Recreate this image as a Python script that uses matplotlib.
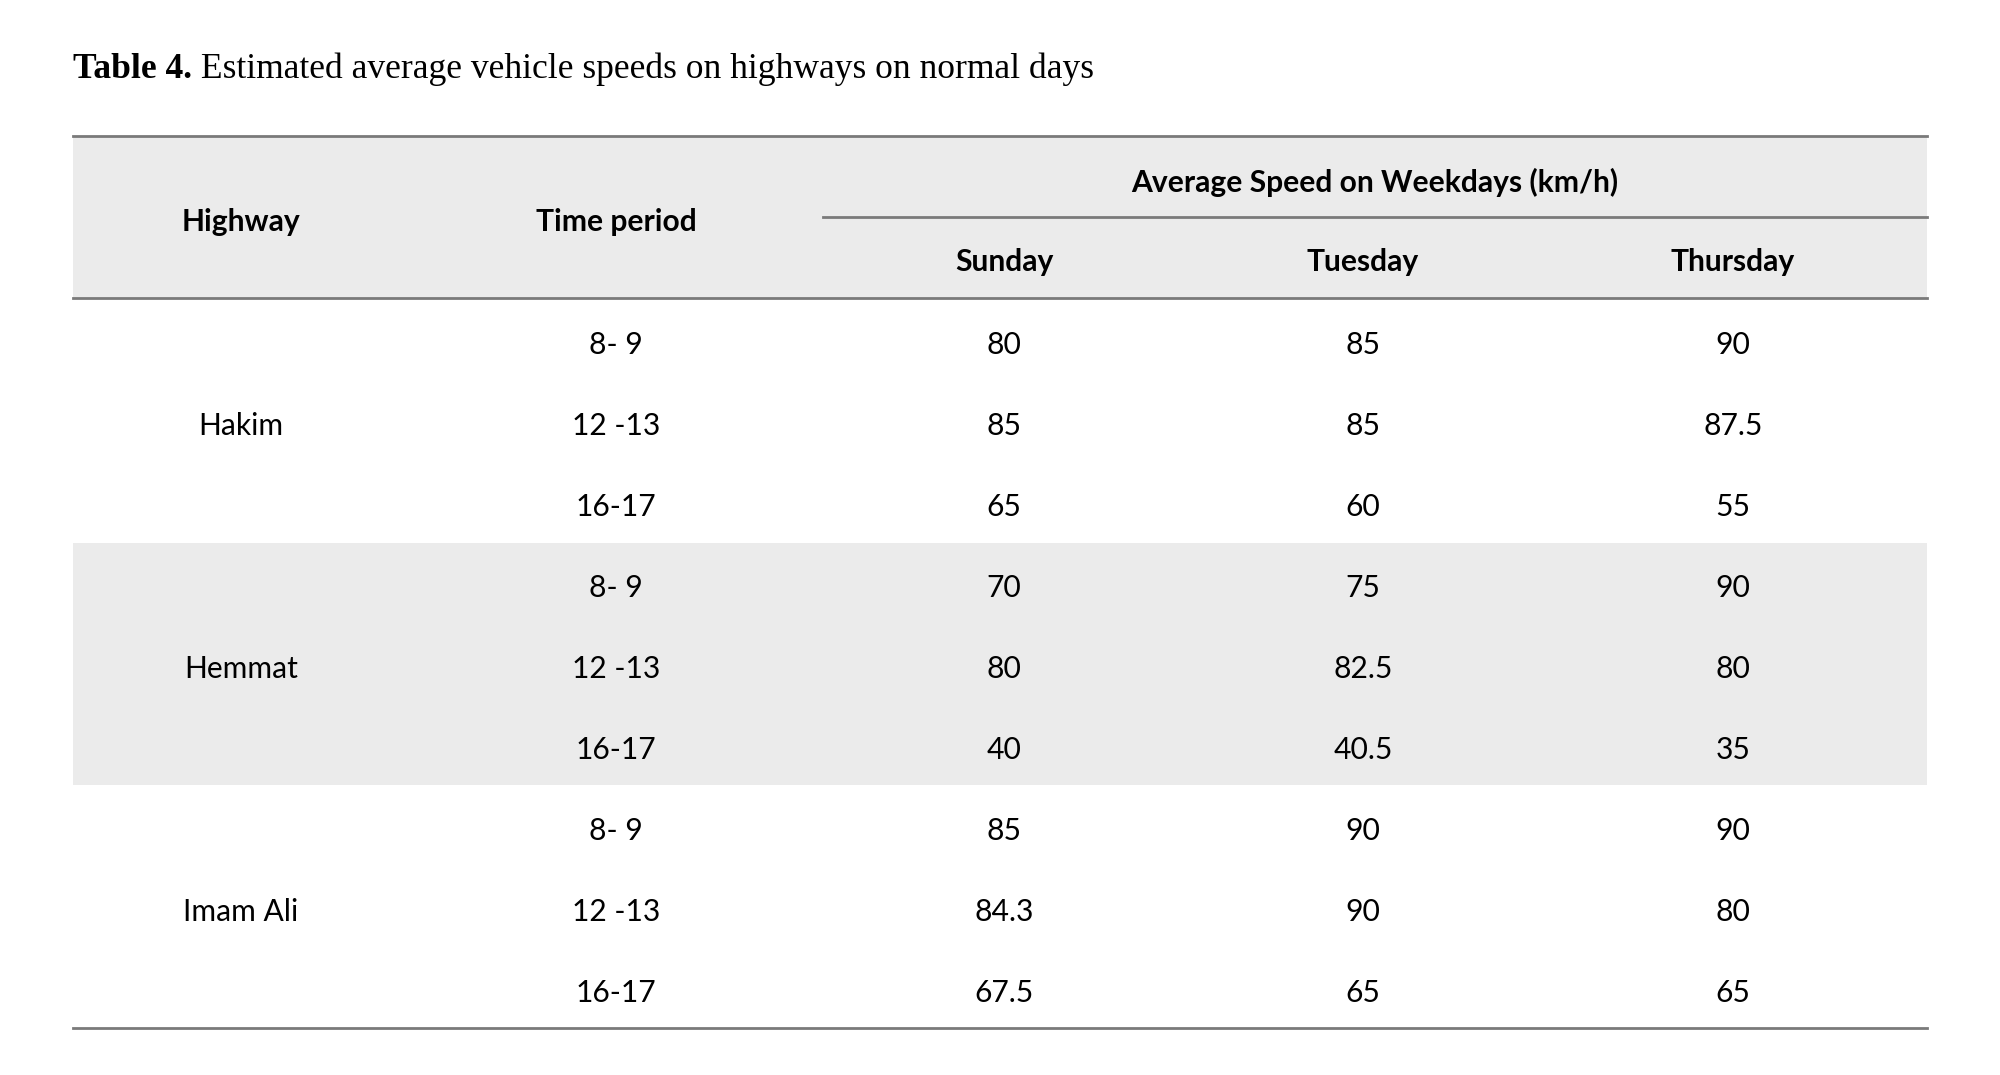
import matplotlib
matplotlib.use('Agg')
import matplotlib.pyplot as plt
from matplotlib.patches import Rectangle

# table content
title_bold = "Table 4."
title_rest = " Estimated average vehicle speeds on highways on normal days"
group_header = "Average Speed on Weekdays (km/h)"
col_headers = ["Highway", "Time period"]
days = ["Sunday", "Tuesday", "Thursday"]
highways = ["Hakim", "Hemmat", "Imam Ali"]
periods = ["8- 9", "12 -13", "16-17"]
sunday = ["80", "85", "65", "70", "80", "40", "85", "84.3", "67.5"]
tuesday = ["85", "85", "60", "75", "82.5", "40.5", "90", "90", "65"]
thursday = ["90", "87.5", "55", "90", "80", "35", "90", "80", "65"]

W, H = 2000, 1075
fig = plt.figure(figsize=(20, 10.75), dpi=100)
ax = fig.add_axes([0, 0, 1, 1])
ax.set_xlim(0, W)
ax.set_ylim(H, 0)
ax.axis('off')

body = ['Lato', 'DejaVu Sans']
serif = ['Liberation Serif', 'DejaVu Serif']
fs = 21.6
line_c = '#7a7a7a'
shade = '#ebebeb'

left, right = 73, 1927
col_x = [241, 616, 1004, 1363, 1733]
row_y0, row_dy = 345, 81
dy = 3  # small shift so glyphs sit like the reference

# title
t = ax.text(left, 69, title_bold, fontsize=25.6, family=serif, weight='bold',
            va='center', ha='left')
fig.canvas.draw()
bb = t.get_window_extent()
x1 = ax.transData.inverted().transform((bb.x1, bb.y0))[0]
ax.text(x1, 69, title_rest, fontsize=25.6, family=serif, va='center', ha='left')

# header band and lines
ax.add_patch(Rectangle((left, 136), right - left, 298 - 136, color=shade, lw=0, zorder=0))
ax.add_patch(Rectangle((left, 543), right - left, 785 - 543, color=shade, lw=0, zorder=0))
ax.plot([left, right], [136, 136], color=line_c, lw=2)
ax.plot([823, right], [217, 217], color=line_c, lw=2)
ax.plot([left, right], [298, 298], color=line_c, lw=2)
ax.plot([left, right], [1028, 1028], color=line_c, lw=2)

ax.text(col_x[0], 219 + dy, col_headers[0], fontsize=fs, family=body, weight='bold', ha='center', va='center')
ax.text(col_x[1], 219 + dy, col_headers[1], fontsize=fs, family=body, weight='bold', ha='center', va='center')
ax.text(1375, 179 + dy, group_header, fontsize=fs, family=body, weight='bold', ha='center', va='center')
for i, d in enumerate(days):
    ax.text(col_x[2 + i], 259 + dy, d, fontsize=fs, family=body, weight='bold', ha='center', va='center')

for g, hw in enumerate(highways):
    ax.text(col_x[0], row_y0 + (3 * g + 1) * row_dy, hw, fontsize=fs, family=body,
            ha='center', va='center')
    for k, p in enumerate(periods):
        r = 3 * g + k
        y = row_y0 + r * row_dy
        ax.text(col_x[1], y, p, fontsize=fs, family=body, ha='center', va='center')
        for c, vals in enumerate([sunday, tuesday, thursday]):
            ax.text(col_x[2 + c], y, vals[r], fontsize=fs, family=body, ha='center', va='center')

fig.savefig('out.png', dpi=100, facecolor='white')
